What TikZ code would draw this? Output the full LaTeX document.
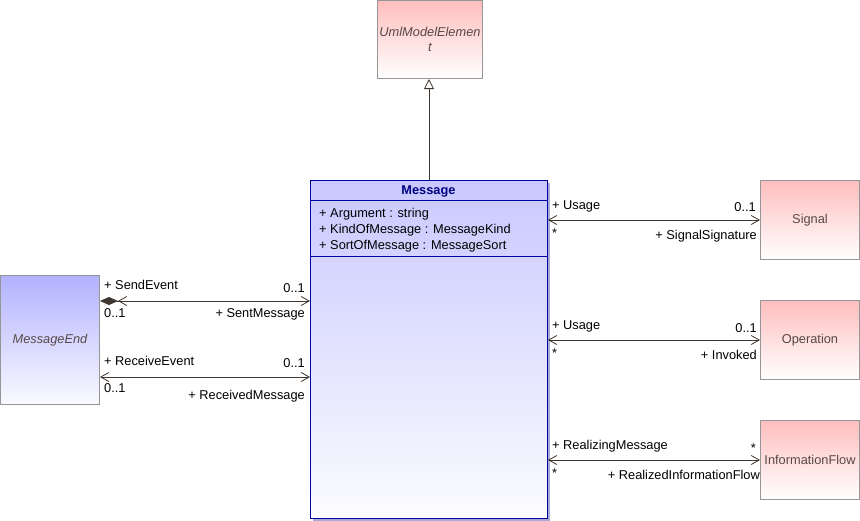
\documentclass[tikz,border=0pt]{standalone}
\usepackage{fontspec}
\setmainfont{Liberation Sans}
\usetikzlibrary{arrows.meta}

\definecolor{pinktop}{RGB}{255,190,190}
\definecolor{bluetop}{RGB}{178,178,255}
\definecolor{bluebot}{RGB}{250,250,255}
\definecolor{msgtop}{RGB}{200,200,255}
\definecolor{msgbot}{RGB}{252,252,255}
\definecolor{boxgray}{RGB}{150,150,150}
\definecolor{msgborder}{RGB}{0,0,160}
\definecolor{msgshadow}{RGB}{170,170,215}
\definecolor{titlenavy}{RGB}{0,0,128}
\definecolor{classtext}{RGB}{88,72,72}
\definecolor{linecol}{RGB}{64,56,48}

\begin{document}
\begin{tikzpicture}[x=1pt,y=-1pt,
  font=\fontsize{12.8}{15}\selectfont,
  classbox/.style={draw=boxgray, line width=1pt, inner sep=0pt, anchor=north west,
    minimum width=99pt, minimum height=79pt, text=classtext},
  pinkbox/.style={classbox, top color=pinktop, bottom color=white},
  bluebox/.style={classbox, top color=bluetop, bottom color=bluebot},
  lbl/.style={inner sep=0pt, text=black},
  lw/.style={lbl, anchor=base west},
  le/.style={lbl, anchor=base east},
  assoc/.style={draw=linecol, line width=0.8pt,
    arrows={Straight Barb[length=8pt,width=9pt]-Straight Barb[length=8pt,width=9pt]}},
  compassoc/.style={draw=linecol, line width=0.8pt,
    arrows={Diamond[length=18pt,width=8pt] Straight Barb[length=8pt,width=9pt]-Straight Barb[length=8pt,width=9pt]}},
  general/.style={draw=linecol, line width=0.8pt,
    -{Triangle[open,length=10pt,width=10pt,fill=white]}}
]
\useasboundingbox (0,0) rectangle (860,520);

% abstract base class
\node[pinkbox, minimum width=105pt, minimum height=78pt, align=center,
  font=\fontsize{12.8}{15}\selectfont\itshape] (ume) at (377,0) {UmlModelElemen\\t};

% Message class with shadow and compartments
\fill[msgshadow] (313,183) rectangle (550,521);
\node[classbox, draw=msgborder, top color=msgtop, bottom color=msgbot,
  minimum width=237pt, minimum height=338pt] (msg) at (310,180) {};
\draw[msgborder, line width=1pt] (msg.west |- 0,200) -- (msg.east |- 0,200);
\draw[msgborder, line width=1pt] (msg.west |- 0,256) -- (msg.east |- 0,256);
\node[lbl, anchor=base, text=titlenavy, font=\fontsize{12.8}{15}\selectfont\bfseries]
  (msgtitle) at (428.5,194.5) {Message};
\node[lw] (attr1) at (319,217.5) {+ Argument : string};
\node[lw] (attr2) at (319,233.5) {+ KindOfMessage : MessageKind};
\node[lw] (attr3) at (319,249.5) {+ SortOfMessage : MessageSort};

% related classes
\node[bluebox, minimum height=129pt, font=\fontsize{12.8}{15}\selectfont\itshape]
  (mend) at (0,275) {MessageEnd};
\node[pinkbox] (signal) at (760,180) {Signal};
\node[pinkbox] (oper) at (760,300) {Operation};
\node[pinkbox] (iflow) at (760,420) {InformationFlow};

% generalization
\draw[general] (msg.north) -- (msg.north |- ume.south);

% associations with MessageEnd
\draw[compassoc] (mend.east |- 0,301) -- (msg.west |- 0,301);
\node[lw] (se1) at (104,289.5) {+ SendEvent};
\node[le] (se2) at (305,292.5) {0..1};
\node[lw] (se3) at (104,317.5) {0..1};
\node[le] (se4) at (305,317.5) {+ SentMessage};

\draw[assoc] (mend.east |- 0,377) -- (msg.west |- 0,377);
\node[lw] (re1) at (104,365) {+ ReceiveEvent};
\node[le] (re2) at (305,367.5) {0..1};
\node[lw] (re3) at (104,392.5) {0..1};
\node[le] (re4) at (305,399.5) {+ ReceivedMessage};

% associations on the right
\draw[assoc] (msg.east |- signal.west) -- (signal.west);
\node[lw] (sg1) at (552,209) {+ Usage};
\node[le] (sg2) at (756,211.5) {0..1};
\node[lw] (sg3) at (552,237) {*};
\node[le] (sg4) at (757,239.5) {+ SignalSignature};

\draw[assoc] (msg.east |- oper.west) -- (oper.west);
\node[lw] (op1) at (552,329) {+ Usage};
\node[le] (op2) at (757,332) {0..1};
\node[lw] (op3) at (552,357) {*};
\node[le] (op4) at (757,359.5) {+ Invoked};

\draw[assoc] (msg.east |- iflow.west) -- (iflow.west);
\node[lw] (if1) at (552,449) {+ RealizingMessage};
\node[le] (if2) at (756,452) {*};
\node[lw] (if3) at (552,477) {*};
\node[le] (if4) at (760,479.5) {+ RealizedInformationFlow};
\end{tikzpicture}
\end{document}
